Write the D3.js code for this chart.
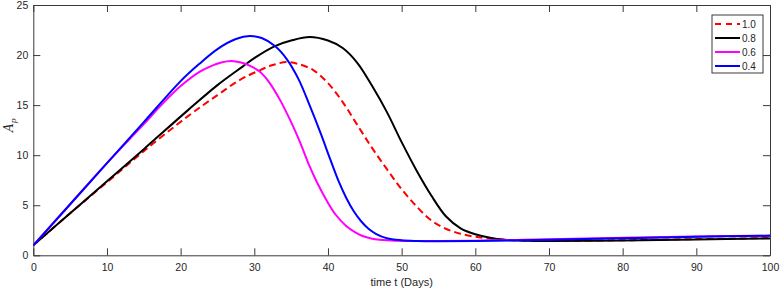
<!DOCTYPE html>
<html>
<head>
<meta charset="utf-8">
<script src="https://cdn.jsdelivr.net/npm/d3@7"></script>
<style>
  html, body { margin: 0; padding: 0; background: #fff; }
  svg { display: block; }
  text { font-family: "Liberation Sans", Arial, Helvetica, sans-serif; }
</style>
</head>
<body>
<svg id="chart" width="780" height="291"></svg>
<script>
// ---- data ----
const seriesLabels = ["1.0", "0.8", "0.6", "0.4"];
const seriesColors = ["#ff0000", "#000000", "#ff00ff", "#0000ff"];

const days10 = [0,5,10,15,21,25,28,30.5,32.5,34.4,36,38,40,42,44,46,48,50,52,54,56,58,60,63,66,70,80,90,100];
const vals10 = [1,4.2,7.3,10.4,13.9,16.0,17.5,18.4,19.0,19.3,19.1,18.5,17.2,15.3,13.0,10.7,8.6,6.6,4.9,3.5,2.65,2.15,1.85,1.6,1.5,1.45,1.5,1.62,1.72];

const days08 = [0,5,10,15,21,25,28.5,30,32.8,35,37.5,40,42,44,46,48,50,52,54,56,58,60,62,64,67,70,80,90,100];
const vals08 = [1,4.2,7.4,10.6,14.5,17.0,18.9,19.7,20.9,21.45,21.8,21.45,20.7,19.2,16.9,14.3,11.3,8.5,6.0,3.9,2.7,2.1,1.75,1.55,1.45,1.42,1.48,1.58,1.68];

const days06 = [0,5,10,15,17.5,20,22.5,24,25.5,26.9,28.2,29.5,30.8,32,33.5,35,36.2,37.5,38.5,39.8,41,42.5,43.7,44.8,46,47,49.3,52,55,60,70,80,90,100];
const vals06 = [1,5.1,9.2,13.1,15.1,16.9,18.3,18.85,19.25,19.4,19.25,18.9,18.3,17.3,15.5,13.3,11.3,8.9,7.3,5.5,4.1,2.9,2.3,1.9,1.65,1.55,1.45,1.42,1.42,1.45,1.6,1.75,1.88,1.97];

const days04 = [0,5,10,15,20,22.5,25,27.5,29.4,31,32.8,34.4,36,37.5,39,40.3,41.5,42.5,43.5,44.5,45.5,46.5,48,50,52,55,60,70,80,90,100];
const vals04 = [1,5.1,9.2,13.3,17.4,19.1,20.6,21.6,21.9,21.7,20.9,19.6,17.6,15.0,12.2,9.6,7.3,5.7,4.4,3.4,2.65,2.15,1.7,1.5,1.43,1.4,1.42,1.55,1.7,1.85,1.95];

const xTicks = [0,10,20,30,40,50,60,70,80,90,100];
const yTicks = [0,5,10,15,20,25];
const xTitle = "time t (Days)";

// ---- layout ----
const svg = d3.select("#chart");
const mLeft = 33.3, mRight = 770, mTop = 5, mBottom = 255.3;
const axisColor = "#3a3a3a";

const x = d3.scaleLinear().domain([0, 100]).range([mLeft, mRight]);
const y = d3.scaleLinear().domain([0, 25]).range([mBottom, mTop]);

const tickLen = 7;

const gx = svg.append("g").attr("transform", `translate(0,${mBottom})`)
  .call(d3.axisBottom(x).tickValues(xTicks).tickFormat(d3.format("d")).tickSizeInner(-tickLen).tickSizeOuter(0).tickPadding(8));
const gxt = svg.append("g").attr("transform", `translate(0,${mTop})`)
  .call(d3.axisTop(x).tickValues(xTicks).tickFormat("").tickSizeInner(-tickLen).tickSizeOuter(0));
const gy = svg.append("g").attr("transform", `translate(${mLeft},0)`)
  .call(d3.axisLeft(y).tickValues(yTicks).tickFormat(d3.format("d")).tickSizeInner(-tickLen).tickSizeOuter(0).tickPadding(5));
const gyr = svg.append("g").attr("transform", `translate(${mRight},0)`)
  .call(d3.axisRight(y).tickValues(yTicks).tickFormat("").tickSizeInner(-tickLen).tickSizeOuter(0));

[gx, gxt, gy, gyr].forEach(g => {
  g.select(".domain").attr("stroke", axisColor).attr("stroke-width", 1);
  g.selectAll(".tick line").attr("stroke", axisColor).attr("stroke-width", 1);
  g.selectAll(".tick text").attr("fill", "#262626").style("font-size", "10.5px")
    .style("font-family", "'Liberation Sans', Arial, Helvetica, sans-serif");
});

svg.append("clipPath").attr("id", "clip").append("rect")
  .attr("x", mLeft).attr("y", mTop).attr("width", mRight - mLeft).attr("height", mBottom - mTop);

const line = d3.line().x(d => x(d[0])).y(d => y(d[1])).curve(d3.curveCatmullRom.alpha(0.5));

const series = [
  { label: seriesLabels[0], color: seriesColors[0], dash: "7,4", pts: d3.zip(days10, vals10) },
  { label: seriesLabels[1], color: seriesColors[1], dash: null, pts: d3.zip(days08, vals08) },
  { label: seriesLabels[2], color: seriesColors[2], dash: null, pts: d3.zip(days06, vals06) },
  { label: seriesLabels[3], color: seriesColors[3], dash: null, pts: d3.zip(days04, vals04) }
];

const plot = svg.append("g").attr("clip-path", "url(#clip)");
series.forEach(s => {
  plot.append("path").datum(s.pts)
    .attr("d", line)
    .attr("fill", "none")
    .attr("stroke", s.color)
    .attr("stroke-width", 2)
    .attr("stroke-dasharray", s.dash)
    .attr("stroke-linejoin", "round");
});

svg.append("text").attr("x", (mLeft + mRight) / 2).attr("y", 286)
  .attr("text-anchor", "middle").attr("fill", "#262626").style("font-size", "11px")
  .text(xTitle);

const yt = svg.append("text")
  .attr("transform", `translate(13,${(mTop + mBottom) / 2 - 5}) rotate(-90)`)
  .attr("text-anchor", "middle").attr("fill", "#262626");
yt.append("tspan").style("font-family", "'DejaVu Serif', serif").style("font-style", "italic").style("font-size", "12px").text("A");
yt.append("tspan").attr("dy", 3).style("font-family", "'DejaVu Serif', serif").style("font-style", "italic").style("font-size", "8px").text("p");

const lg = svg.append("g");
const lx0 = 712, ly0 = 15, lw = 51, lh = 58;
lg.append("rect").attr("x", lx0).attr("y", ly0).attr("width", lw).attr("height", lh)
  .attr("fill", "#fff").attr("stroke", axisColor).attr("stroke-width", 1);
const ly = d3.scalePoint().domain(seriesLabels).range([24, 66]);
series.forEach(s => {
  lg.append("line").attr("x1", 715).attr("x2", 740)
    .attr("y1", ly(s.label)).attr("y2", ly(s.label))
    .attr("stroke", s.color).attr("stroke-width", 2).attr("stroke-dasharray", s.dash ? "6,5" : null);
  lg.append("text").attr("x", 742).attr("y", ly(s.label) + 3.5)
    .attr("fill", "#262626").style("font-size", "10px").text(s.label);
});
</script>
</body>
</html>
